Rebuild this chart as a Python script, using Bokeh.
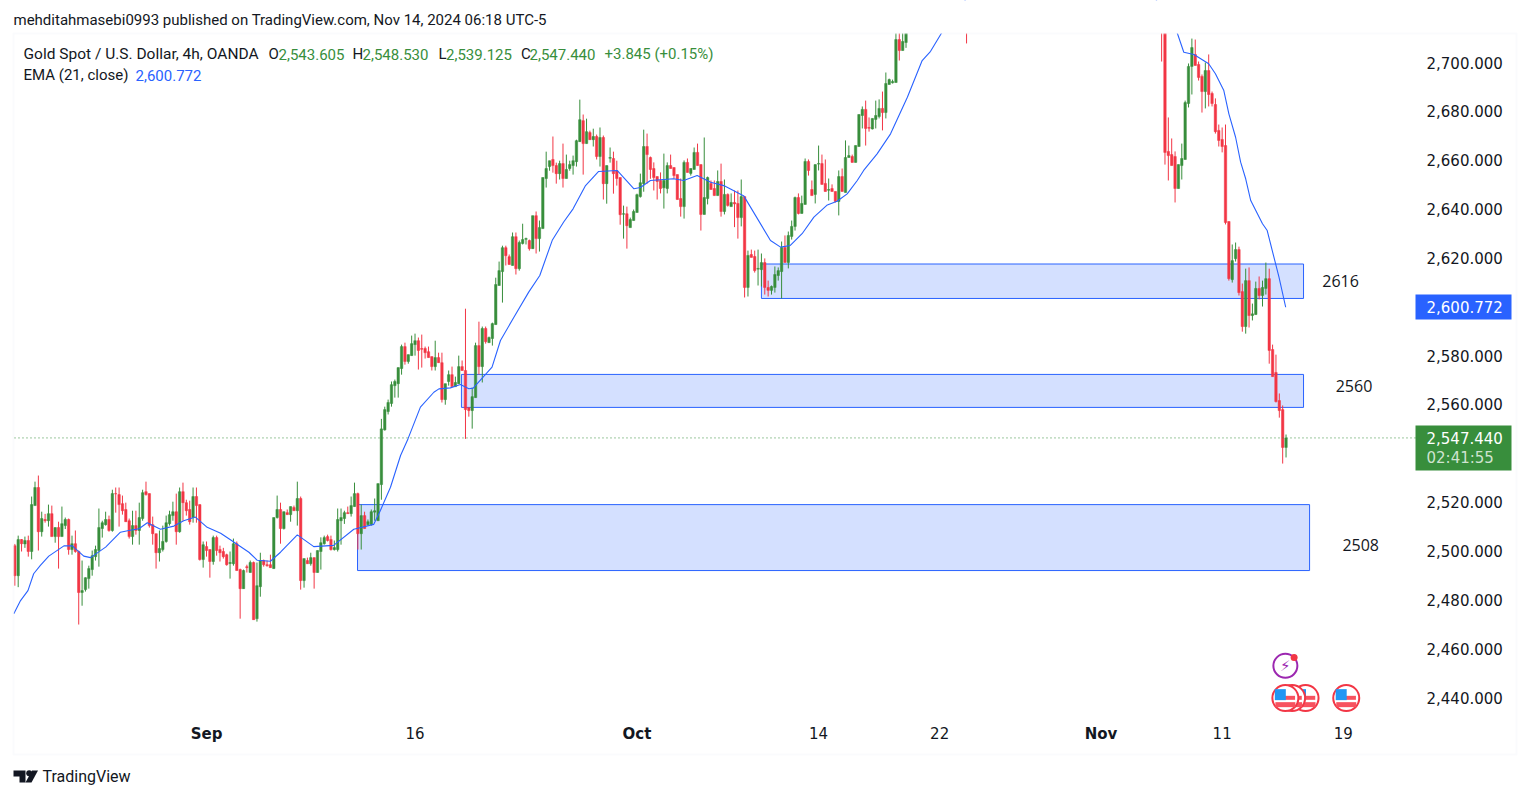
from bokeh.plotting import figure
from bokeh.models import (ColumnDataSource, Range1d, FixedTicker, Label, BoxAnnotation,
                          NumeralTickFormatter)
from bokeh.core.properties import value
from bokeh.embed import file_html
from bokeh.resources import INLINE

# ---------- data (candles above the chart's top edge are left out) ----------
candle_index = list(range(266)) + [283] + list(range(341, 379))

opens = [
2502.2,2489.9,2504.7,2502.9,2504.3,2499.8,2518.6,2526.0,2507.9,2512.9,
2512.4,2515.3,2505.9,2509.6,2505.9,2510.4,2512.9,2500.6,2503.0,2499.8,
2483.0,2484.2,2488.7,2492.4,2497.7,2500.2,2509.2,2510.8,2512.9,2508.4,
2523.5,2523.1,2519.4,2517.0,2512.4,2505.9,2510.4,2508.4,2513.3,2524.3,
2523.5,2510.8,2507.1,2499.3,2500.6,2503.9,2511.2,2514.5,2516.1,2507.9,
2524.3,2519.8,2517.0,2513.7,2522.3,2519.0,2496.5,2501.8,2500.6,2495.7,
2505.5,2500.6,2499.8,2498.5,2494.9,2494.8,2503.0,2492.4,2484.6,2493.6,
2491.2,2495.3,2472.3,2485.4,2496.1,2494.4,2494.4,2492.8,2513.7,2517.0,
2509.2,2515.7,2514.9,2517.8,2516.5,2521.5,2487.9,2496.1,2494.8,2497.3,
2491.2,2499.8,2503.0,2505.9,2504.7,2500.6,2500.6,2512.4,2513.3,2515.7,
2515.3,2518.2,2523.5,2507.1,2514.5,2510.8,2510.8,2515.9,2512.4,
2527.2,2549.6,2557.1,2560.4,2567.7,2568.5,2574.7,2583.7,2577.6,2580.0,2584.5,
2586.1,2582.9,2582.9,2581.6,2579.6,2575.5,2579.2,2577.1,2562.0,2569.4,
2572.2,2567.3,2568.5,2575.5,2573.9,2558.7,2557.5,2562.8,2584.1,2575.5,
2591.1,2585.3,2587.0,2592.7,2608.7,2614.4,2624.2,2620.5,2616.9,2628.7,
2615.6,2625.9,2627.6,2627.1,2623.8,2637.3,2627.9,2632.0,2652.5,2657.4,
2660.3,2657.8,2654.5,2658.6,2652.5,2656.6,2657.8,2659.4,2667.6,2676.2,
2666.8,2671.3,2668.4,2669.7,2661.5,2669.3,2650.4,2660.8,2660.7,2655.7,
2652.9,2637.9,2638.1,2632.4,2635.3,2638.6,2645.1,2650.4,2665.6,
2661.1,2656.6,2653.3,2651.7,2648.7,2648.4,2657.8,2657.0,2654.1,2644.3,
2641.0,2659.1,2654.6,2656.2,2663.2,2658.2,2637.8,2644.3,2650.5,2648.4,
2645.5,2651.3,2639.0,2646.0,2641.0,2642.7,2642.3,2636.5,2645.1,2607.9,
2621.4,2620.6,2615.4,2615.2,2618.1,2607.9,2606.7,2607.9,2612.8,2614.4,
2624.3,2618.1,2628.8,2632.9,2644.7,2638.2,2641.9,2659.5,2648.0,2646.0,
2658.4,2658.6,2650.5,2647.7,2648.4,2647.2,2643.1,2653.3,2646.8,2661.1,
2661.5,2659.1,2665.6,2678.3,2680.8,2673.4,2672.8,2676.7,2677.9,2681.2,
2679.5,2691.0,2691.7,2691.8,2709.4,2704.9,2708.2,
2722.0,
2722.0,2716.0,2663.6,2662.3,2661.5,2648.4,2657.8,2660.3,2683.2,2698.4,
2703.3,2699.2,2694.3,2688.1,2696.7,2687.3,2682.8,2672.2,2668.5,2666.0,
2634.9,2611.1,2619.7,2623.4,2606.2,2591.9,2610.7,2596.4,2596.8,2607.5,
2604.6,2607.5,2611.5,2582.5,2573.1,2561.6,2557.9,2542.4]

highs = [
2502.9,2506.3,2504.9,2505.9,2506.3,2522.3,2528.4,2530.9,2516.1,2515.2,
2519.0,2518.6,2509.6,2512.0,2518.2,2513.7,2513.3,2506.3,2508.4,2500.2,
2496.1,2489.2,2494.0,2500.2,2502.2,2517.4,2512.4,2516.1,2514.5,2525.1,
2526.0,2526.0,2522.7,2519.8,2513.3,2516.5,2516.5,2519.8,2525.1,2528.4,
2523.5,2514.1,2507.1,2508.4,2510.4,2514.5,2516.5,2520.2,2523.5,2526.0,
2528.0,2521.0,2520.6,2526.0,2526.0,2519.0,2503.9,2503.9,2500.6,2506.3,
2506.3,2502.2,2501.3,2498.9,2499.8,2505.1,2503.9,2492.8,2492.4,2494.4,
2496.1,2495.7,2495.3,2499.3,2496.5,2496.1,2498.5,2513.7,2522.7,2519.8,
2516.1,2517.0,2518.2,2518.6,2528.4,2522.3,2496.9,2497.3,2499.3,2497.3,
2500.2,2505.6,2506.3,2506.7,2506.3,2504.3,2517.4,2517.4,2516.5,2518.2,
2522.3,2528.0,2523.9,2519.0,2516.1,2512.9,2517.0,2521.5,2527.6,
2554.1,2559.1,2562.0,2569.4,2570.2,2575.1,2584.5,2585.3,2580.4,2588.2,2589.0,
2587.4,2588.6,2583.7,2583.7,2579.6,2586.1,2581.2,2581.2,2568.5,2573.9,
2575.5,2571.4,2580.0,2578.0,2599.2,2558.7,2566.9,2585.3,2593.9,2591.9,
2591.9,2587.8,2593.5,2611.9,2618.5,2625.0,2625.0,2621.4,2630.4,2630.4,
2627.1,2634.0,2628.3,2627.5,2637.3,2639.0,2635.3,2652.9,2663.5,2659.8,
2669.7,2659.0,2659.8,2666.8,2662.3,2659.8,2661.9,2668.4,2684.8,2678.7,
2677.0,2672.1,2672.9,2670.5,2673.4,2670.1,2657.8,2665.2,2663.5,2659.8,
2652.9,2641.4,2641.0,2636.5,2639.8,2646.3,2654.5,2672.5,2670.9,
2661.5,2659.1,2653.3,2655.0,2662.7,2659.1,2662.3,2657.0,2654.1,2652.5,
2659.9,2660.7,2656.6,2665.2,2666.8,2658.2,2669.3,2653.3,2651.7,2651.7,
2655.8,2658.6,2652.1,2646.4,2646.4,2647.6,2647.6,2652.1,2645.1,2623.0,
2623.4,2623.0,2623.4,2621.8,2619.8,2610.7,2608.7,2616.5,2616.1,2626.7,
2629.2,2630.8,2635.3,2645.1,2646.4,2645.5,2660.7,2660.3,2651.7,2658.2,
2666.0,2662.3,2660.3,2652.5,2650.1,2647.2,2655.8,2656.6,2668.1,2666.0,
2662.3,2666.0,2678.7,2682.0,2684.4,2677.5,2677.1,2684.4,2684.9,2688.1,
2695.9,2693.4,2693.0,2715.0,2716.0,2714.0,2718.0,
2724.0,
2724.0,2722.0,2677.5,2668.9,2663.6,2658.2,2666.8,2684.4,2699.6,2709.8,
2709.4,2700.4,2695.1,2700.0,2703.3,2688.1,2685.3,2674.6,2673.4,2674.6,
2634.9,2625.5,2626.3,2624.6,2609.5,2615.6,2616.1,2601.3,2610.3,2612.4,
2610.7,2618.1,2615.6,2584.5,2580.4,2564.5,2559.6,2547.7]

lows = [
2485.8,2485.2,2499.8,2501.3,2497.7,2496.6,2518.6,2500.2,2505.9,2511.6,
2510.0,2505.9,2503.4,2492.8,2505.9,2509.0,2498.5,2498.5,2499.3,2469.9,
2477.6,2483.4,2484.6,2489.9,2496.1,2493.6,2505.5,2510.4,2507.9,2507.9,
2515.7,2510.0,2514.9,2512.0,2505.1,2502.6,2506.7,2502.6,2512.4,2522.7,
2509.6,2502.6,2492.8,2495.7,2499.8,2503.4,2510.4,2512.4,2502.6,2507.5,
2512.4,2514.5,2510.8,2511.6,2511.6,2496.1,2493.2,2497.7,2489.1,2494.4,
2498.1,2495.7,2496.9,2494.0,2488.7,2494.0,2492.0,2472.3,2484.6,2491.2,
2491.2,2471.9,2471.1,2481.3,2493.6,2493.6,2493.2,2492.8,2513.3,2503.0,
2508.8,2514.9,2512.0,2516.5,2510.4,2484.2,2485.0,2494.8,2494.0,2484.6,
2491.2,2492.4,2502.6,2503.9,2500.2,2500.2,2499.8,2502.6,2511.1,2515.3,
2514.1,2518.2,2500.6,2500.6,2509.2,2510.4,2510.4,2512.4,2512.4,
2521.0,2549.3,2555.9,2559.1,2562.8,2562.8,2572.2,2576.3,2576.7,2580.0,2580.0,
2574.3,2575.1,2578.8,2579.2,2573.9,2573.9,2577.1,2560.8,2559.9,2567.7,
2567.3,2567.3,2568.4,2573.9,2545.9,2555.0,2550.1,2562.8,2572.2,2569.0,
2584.9,2585.3,2584.1,2592.7,2608.7,2601.7,2616.9,2617.3,2616.9,2613.2,
2614.8,2625.5,2625.5,2623.0,2623.8,2621.8,2622.6,2632.0,2648.8,2655.7,
2654.9,2650.4,2652.1,2648.8,2652.5,2655.7,2654.1,2657.4,2667.6,2654.1,
2666.8,2668.4,2665.6,2660.3,2657.4,2643.9,2642.2,2659.0,2646.3,2649.6,
2633.6,2627.9,2623.8,2632.4,2635.3,2638.6,2644.7,2647.1,2650.4,
2652.4,2647.6,2643.9,2646.4,2640.2,2646.4,2656.6,2652.5,2643.9,2636.9,
2636.1,2655.0,2653.7,2656.2,2657.8,2631.2,2637.8,2641.9,2648.0,2645.5,
2645.5,2636.9,2637.8,2641.0,2641.0,2632.6,2627.9,2632.9,2603.8,2604.2,
2620.2,2614.0,2608.7,2608.3,2605.0,2604.2,2605.0,2605.8,2610.7,2603.4,
2618.1,2615.7,2627.5,2631.2,2637.8,2638.2,2641.9,2653.7,2645.5,2642.3,
2655.8,2650.1,2647.2,2643.5,2647.2,2642.7,2637.4,2647.2,2646.8,2661.1,
2659.1,2659.1,2665.6,2673.0,2666.0,2671.7,2672.6,2673.0,2677.1,2672.2,
2677.1,2691.0,2691.4,2691.8,2700.8,2704.9,2706.0,
2707.8,
2700.4,2658.2,2651.7,2657.8,2642.7,2648.4,2652.1,2660.3,2681.6,2686.9,
2698.8,2692.6,2679.5,2681.2,2682.0,2682.0,2670.9,2665.6,2663.2,2633.7,
2610.7,2609.9,2618.5,2604.6,2589.8,2589.0,2591.5,2594.4,2596.8,2603.0,
2600.1,2605.0,2576.7,2571.4,2560.8,2554.6,2535.8,2538.3]

closes = [
2489.9,2504.7,2503.0,2504.3,2499.8,2519.0,2526.0,2507.9,2513.3,2512.4,
2515.3,2505.9,2509.6,2505.9,2511.2,2512.9,2500.6,2503.0,2499.8,2483.0,
2483.8,2489.1,2492.8,2498.1,2500.6,2509.6,2511.6,2512.9,2508.4,2523.5,
2523.4,2519.0,2516.5,2512.0,2505.9,2510.4,2508.4,2513.7,2523.9,2523.1,
2510.4,2507.1,2499.3,2501.0,2503.9,2511.6,2514.9,2516.1,2507.9,2524.3,
2519.8,2516.5,2512.0,2522.3,2518.6,2496.5,2502.6,2500.2,2495.7,2505.5,
2500.2,2499.3,2497.7,2494.4,2495.3,2503.0,2492.0,2484.6,2492.0,2493.2,
2495.3,2471.9,2485.8,2496.1,2494.4,2494.0,2493.2,2513.7,2517.0,2509.2,
2516.1,2514.9,2518.2,2516.5,2521.5,2487.9,2496.9,2494.8,2497.3,2491.2,
2500.2,2503.4,2505.5,2504.3,2500.6,2501.4,2512.9,2513.7,2515.7,2515.3,
2518.6,2523.5,2507.1,2514.5,2509.2,2512.0,2516.1,2516.5,2527.6,
2550.0,2557.9,2560.8,2568.1,2569.4,2575.1,2583.7,2577.6,2580.4,2584.9,2586.1,
2582.1,2582.6,2581.2,2579.2,2575.5,2579.2,2577.1,2562.0,2568.5,2572.2,
2567.3,2569.0,2575.5,2573.9,2557.9,2557.5,2563.2,2584.1,2575.5,2591.1,
2585.7,2587.4,2593.1,2609.1,2614.8,2624.2,2620.9,2617.3,2628.7,2615.6,
2626.3,2627.5,2627.9,2623.8,2637.3,2627.9,2632.4,2652.9,2656.6,2659.8,
2657.8,2654.5,2658.6,2652.5,2656.2,2658.2,2659.8,2668.0,2676.6,2666.8,
2671.7,2668.4,2669.7,2661.5,2669.3,2650.4,2657.8,2661.1,2654.5,2652.5,
2637.7,2638.1,2633.2,2635.7,2639.0,2645.9,2650.8,2665.6,2662.3,
2656.2,2652.9,2651.3,2648.4,2651.7,2657.8,2656.6,2653.7,2643.9,2641.0,
2659.1,2655.0,2656.6,2663.2,2657.8,2637.8,2644.7,2652.9,2648.0,2645.5,
2651.3,2639.0,2646.0,2641.5,2642.7,2642.1,2636.5,2645.1,2607.9,2621.0,
2620.2,2614.8,2615.7,2618.1,2607.9,2606.7,2608.3,2613.2,2614.8,2624.3,
2618.1,2629.2,2632.9,2644.7,2638.2,2642.3,2659.5,2655.8,2645.5,2658.2,
2658.6,2650.1,2647.2,2648.0,2647.2,2643.1,2653.3,2647.2,2661.1,2661.9,
2659.1,2666.0,2678.7,2680.8,2673.0,2673.1,2677.1,2678.3,2681.2,2679.5,
2691.4,2693.0,2692.2,2709.4,2704.9,2708.6,2716.0,
2716.0,
2716.0,2663.2,2661.9,2657.8,2648.4,2658.2,2660.7,2683.6,2698.4,2706.1,
2698.8,2693.9,2688.1,2696.7,2686.9,2683.2,2671.7,2668.1,2665.6,2634.5,
2611.5,2618.9,2623.4,2605.8,2591.9,2610.7,2596.4,2597.1,2607.5,2604.6,
2607.9,2611.5,2582.1,2571.4,2561.2,2557.5,2542.4,2546.3]

ema_index = [-0.3,1.7,3.9,5.6,7.6,10.1,14.6,17.1,20.5,22.5,27.0,31.4,33.9,36.9,39.4,43.3,47.3,50.2,53.7,57.2,
             61.2,64.1,69.6,72.1,76.0,79.0,84.0,88.9,94.8,100.8,106.7,108.7,111.7,114.7,116.9,120.6,124.6,126.1,
             129.5,132.5,135.0,136.3,141.9,144.4,148.4,152.8,156.1,159.8,163.2,166.0,169.7,173.6,179.1,184.1,
             186.0,189.0,195.9,198.9,202.9,206.9,210.8,216.8,224.7,227.7,230.6,234.1,237.6,241.6,244.5,247.5,
             250.5,252.4,256.4,260.4,265.4,269.8,272.3,275.3,278.2,293.0,330.0,345.4,347.6,350.6,355.0,357.0,
             359.5,361.0,363.0,364.5,366.0,367.5,371.0,372.4,373.9,375.9,377.9]
ema_values = [2474.3,2479.7,2483.8,2490.7,2494.1,2497.9,2502.1,2502.1,2497.9,2497.3,2501.6,2507.7,2508.4,2509.1,
              2511.6,2508.9,2510.2,2512.4,2513.9,2509.7,2507.3,2504.6,2499.5,2496.2,2495.8,2499.5,2506.6,2501.8,
              2502.3,2508.9,2510.9,2516.6,2526.1,2539.1,2545.9,2558.9,2565.0,2566.4,2566.8,2568.2,2566.4,2566.7,
              2575.3,2586.2,2595.7,2606.0,2612.8,2627.2,2634.7,2640.1,2649.6,2655.4,2655.8,2648.3,2648.8,2651.7,
              2652.4,2651.7,2653.7,2651.0,2649.6,2645.3,2627.1,2624.4,2625.1,2629.9,2636.7,2641.7,2643.2,2646.2,
              2651.7,2655.8,2662.6,2670.8,2685.8,2700.8,2704.6,2711.5,2717.2,2745.0,2745.0,2713.1,2704.2,2703.3,
              2699.5,2695.4,2688.5,2679.0,2669.4,2659.2,2652.4,2643.5,2634.0,2631.2,2623.0,2612.1,2599.8]

zone_start = [222.0, 132.8, 101.9]
zone_end = [383.2, 383.2, 385.0]
zone_top = [2617.5, 2572.3, 2519.0]
zone_bottom = [2603.4, 2558.8, 2492.0]
zone_names = ["2616", "2560", "2508"]
zone_name_index = [394.2, 398.2, 400.2]
zone_name_price = [2610.6, 2567.6, 2502.6]

price_ticks = list(range(2440, 2701, 20))
day_ticks = {119: "16", 239: "14", 275: "22", 359: "11", 395: "19"}
month_ticks = {57: "Sep", 185: "Oct", 323: "Nov"}
flag_index = [395.9, 383.8, 379.8, 377.8]
flag_price = 2439.8
flash_index = 377.8
flash_price = 2453.0
last_line_index = [-0.1, 416.5]

GREEN, RED, BLUE, INK = "#388E3C", "#F23645", "#2962FF", "#131722"
BODY = "Roboto"
PRICE = "DejaVu Sans"

# the plot frame fills the whole canvas so that annotations outside the candle pane are not clipped
X0, Y0 = 14.33, 62.0
DX, DY = 3.363, 0.4094
def px_x(px):
    return (px - X0) / DX
def px_y(py):
    return 2700 - (py - Y0) * DY

p = figure(width=1521, height=790, output_backend="svg", toolbar_location=None,
           x_range=Range1d(px_x(0), px_x(1521)), y_range=Range1d(px_y(790), px_y(0)),
           y_axis_location="right", min_border_left=0, min_border_top=0,
           min_border_right=0, min_border_bottom=0, background_fill_color="white",
           border_fill_color="white", outline_line_color=None)
p.grid.visible = False

# zones under the candles
p.quad(left=zone_start, right=zone_end, top=zone_top, bottom=zone_bottom,
       fill_color=BLUE, fill_alpha=0.2, line_color=BLUE, line_width=1)
p.text(x=zone_name_index, y=zone_name_price, text=zone_names, text_font=value("Open Sans"),
       text_font_size="16px", text_color=INK, text_align="center", text_baseline="middle")

# candles
colors = [GREEN if c >= o else RED for o, c in zip(opens, closes)]
src = ColumnDataSource(dict(x=candle_index, o=opens, h=highs, l=lows, c=closes, color=colors,
                            top=[max(a, b) for a, b in zip(opens, closes)],
                            bottom=[min(a, b) for a, b in zip(opens, closes)]))
p.segment(x0="x", x1="x", y0="l", y1="h", color="color", line_width=1, source=src)
p.vbar(x="x", top="top", bottom="bottom", width=0.72, fill_color="color", line_color="color",
       line_width=0.5, source=src)

# EMA and last-price line
p.line(ema_index, ema_values, line_color=BLUE, line_width=1.1)
p.line(last_line_index, [closes[-1], closes[-1]], line_color=GREEN, line_width=1, line_dash="1 3")

# event icons
for fx in flag_index:
    p.scatter([fx], [flag_price], size=26, marker="circle", fill_color="white", line_color=RED, line_width=2)
    p.rect([fx + 0.5], [flag_price + 0.1], width=16, height=4, width_units="screen", height_units="screen",
           fill_color="#F7525F", line_color=None)
    p.rect([fx], [flag_price - 2.7], width=20, height=5, width_units="screen", height_units="screen",
           fill_color="#F7525F", line_color=None)
    p.rect([fx - 1.5], [flag_price + 1.4], width=11, height=11, width_units="screen", height_units="screen",
           fill_color="#2196F3", line_color=None)
p.scatter([flash_index], [flash_price], size=24, marker="circle", fill_color="white", line_color="#9C27B0", line_width=2)
p.text([flash_index], [flash_price], text=["⚡"], text_font=value("DejaVu Sans"), text_font_size="15px",
       text_color="#9C27B0", text_align="center", text_baseline="middle")
p.scatter([flash_index + 2.6], [flash_price + 3.4], size=7, marker="circle", fill_color=RED, line_color=None)

# logo
p.patches([[px_x(v) for v in (13, 25, 25, 19, 19, 13)], [px_x(v) for v in (31.5, 37.5, 31, 25)]],
          [[px_y(v) for v in (770, 770, 782, 782, 776, 776)], [px_y(v) for v in (770, 770, 782, 782)]],
          fill_color=INK, line_color=None)
p.scatter([px_x(28.7)], [px_y(772.8)], size=6, marker="circle", fill_color=INK, line_color=None)

# axes: labels sit inside the canvas-wide frame
ya = p.yaxis[0]
ya.ticker = FixedTicker(ticks=price_ticks)
ya.formatter = NumeralTickFormatter(format="0,0.000")
ya.axis_line_color = None
ya.major_tick_line_color = None
ya.minor_tick_line_color = None
ya.major_tick_out = 0
ya.major_tick_in = 0
ya.major_label_standoff = -95
ya.major_label_text_font = PRICE
ya.major_label_text_font_size = "15px"
ya.major_label_text_color = INK

xa = p.xaxis[0]
xa.ticker = FixedTicker(ticks=list(day_ticks))
xa.major_label_overrides = day_ticks
xa.axis_line_color = None
xa.major_tick_line_color = None
xa.minor_tick_line_color = None
xa.major_tick_out = 0
xa.major_tick_in = 0
xa.major_label_standoff = -64
xa.major_label_text_font = PRICE
xa.major_label_text_font_size = "15px"
xa.major_label_text_color = INK

def box(left, right, top, bottom, **kw):
    p.add_layout(BoxAnnotation(left=left, right=right, top=top, bottom=bottom, left_units="canvas",
                               right_units="canvas", top_units="canvas", bottom_units="canvas", **kw))

def note(text, x, y, color=INK, size="15px", font=BODY, **kw):
    p.add_layout(Label(x=x, y=y, x_units="canvas", y_units="canvas", text=text, text_color=color,
                       text_font=font, text_font_size=size, text_baseline="middle", **kw))

# covers that keep the candles inside their pane
box(-4, 1525, -4, 33, fill_color="white", fill_alpha=1, line_color=None)
box(-4, 13, 33, 754, fill_color="white", fill_alpha=1, line_color=None)
# frame and price tags
box(13, 1516, 33, 754, fill_alpha=0, line_color="#F0F3FA", line_width=2)
box(1415, 1511, 294, 319, fill_color=BLUE, fill_alpha=1, line_color=None)
box(1415, 1511, 425, 470, fill_color=GREEN, fill_alpha=1, line_color=None)

for k, v in month_ticks.items():
    p.add_layout(Label(x=k, y=733, x_units="data", y_units="canvas", text=v, text_color=INK, text_font=PRICE,
                       text_font_size="15px", text_font_style="bold", text_align="center", text_baseline="middle"))

note("mehditahmasebi0993 published on TradingView.com, Nov 14, 2024 06:18 UTC-5", 13, 19)
note("Gold Spot / U.S. Dollar, 4h, OANDA", 23, 53.5, size="15.5px")
for txt, x, col in [("O", 268, INK), ("2,543.605", 278, GREEN), ("H", 352, INK), ("2,548.530", 362, GREEN),
                    ("L", 438, INK), ("2,539.125", 445.5, GREEN), ("C", 520.5, INK), ("2,547.440", 529, GREEN),
                    ("+3.845 (+0.15%)", 604, GREEN)]:
    note(txt, x, 53.5, col)
note("EMA (21, close)", 23, 74.5)
note("2,600.772", 135, 74.5, BLUE)
note("2,600.772", 1426, 306, "white", "15px", PRICE)
note("2,547.440", 1426, 437, "white", "15px", PRICE)
note("02:41:55", 1426, 457, "#CFE3D0", "15px", PRICE)
note("TradingView", 42, 776, INK, "16px", BODY)

open("out.html", "w").write(file_html(p, INLINE))
